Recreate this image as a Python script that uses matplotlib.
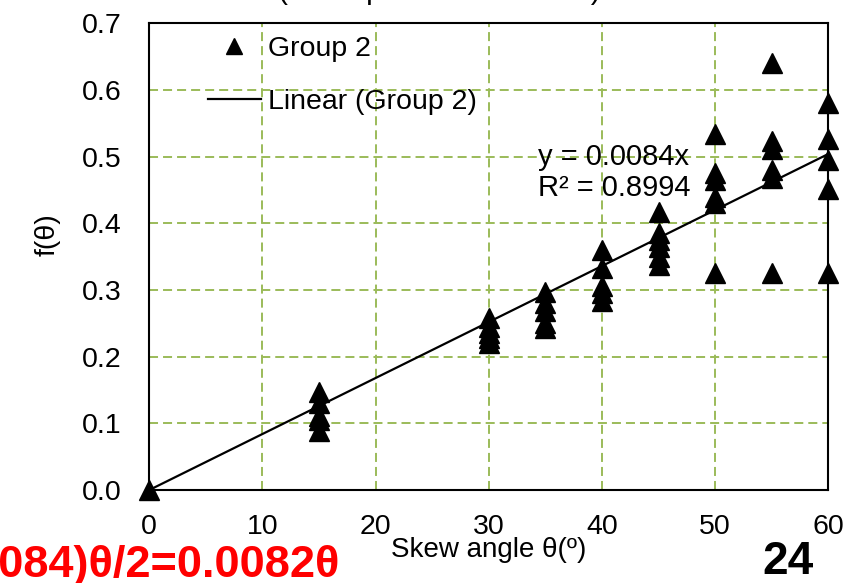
import matplotlib
matplotlib.use("Agg")
import matplotlib.pyplot as plt
import numpy as np

plt.rcParams['font.family'] = ['Liberation Sans', 'DejaVu Sans']
plt.rcParams['lines.scale_dashes'] = False

# ---- data ----
angles = [0, 15, 30, 35, 40, 45, 50, 55, 60]
f_values = [
    [0.0],
    [0.147, 0.13, 0.1115, 0.105, 0.0885],
    [0.2575, 0.245, 0.235, 0.228, 0.221],
    [0.2975, 0.28, 0.268, 0.25, 0.243],
    [0.36, 0.333, 0.306, 0.296, 0.284],
    [0.4175, 0.385, 0.375, 0.365, 0.35, 0.3375],
    [0.534, 0.475, 0.465, 0.44, 0.43, 0.326],
    [0.64, 0.524, 0.512, 0.48, 0.468, 0.325],
    [0.58, 0.527, 0.495, 0.452, 0.326],
]
trend_slope = 0.0084
trend_r2 = 0.8994
x_ticks = [0, 10, 20, 30, 40, 50, 60]
y_ticks = [0.0, 0.1, 0.2, 0.3, 0.4, 0.5, 0.6, 0.7]

xs = [a for a, vals in zip(angles, f_values) for _ in vals]
ys = [v for vals in f_values for v in vals]

W, H = 854, 583
fig = plt.figure(figsize=(W / 100, H / 100), dpi=100)
L, R, T, B = 149.3, 828.3, 23.3, 490.0
ax = fig.add_axes([L / W, 1 - B / H, (R - L) / W, (B - T) / H])

ax.set_xlim(0, 60)
ax.set_ylim(0, 0.7)
ax.set_xticks(x_ticks)
ax.set_yticks(y_ticks)
ax.set_yticklabels([f"{v:.1f}" for v in y_ticks])
ax.tick_params(axis='both', length=0, labelsize=20.5)
ax.tick_params(axis='x', pad=17.5)
ax.tick_params(axis='y', pad=20)

grid_color = '#9BBB59'
ax.grid(True, color=grid_color, linewidth=1.4, dashes=(6.5, 3.6))
ax.set_axisbelow(True)
for s in ax.spines.values():
    s.set_linewidth(1.5)
    s.set_color('black')

# trend line
tx = np.array([0, 60])
ax.plot(tx, trend_slope * tx, color='black', linewidth=1.6, zorder=3,
        label='Linear (Group 2)')

# data
ax.plot(xs, ys, linestyle='none', marker='^', markersize=14, color='black',
        clip_on=False, zorder=4, label='Group 2')

h, l = ax.get_legend_handles_labels()
leg = ax.legend([h[1], h[0]], [l[1], l[0]], loc='upper left',
                bbox_to_anchor=(208 / W, 1 - 36 / H), bbox_transform=fig.transFigure,
                frameon=False, fontsize=20.5, handlelength=1.85, handletextpad=0.25,
                borderpad=0, borderaxespad=0, labelspacing=0.96, markerscale=0.85)

ax.text(538 / W, 1 - 143 / H,
        f"y = {trend_slope:.4f}x\nR² = {trend_r2:.4f}",
        transform=fig.transFigure, ha='left', va='top', fontsize=21,
        linespacing=1.13)

ax.set_xlabel('Skew angle θ(º)', fontsize=20)
ax.xaxis.set_label_coords(0.5, -(537 - B) / (B - T))
ax.set_ylabel('f(θ)', fontsize=20.5)
ax.yaxis.set_label_coords((61 - L) / (R - L), (B - 235) / (B - T))

# clipped title at top (only descenders visible, as in the reference)
fig.text(278 / W, 1 + 1 / H, '(Test specimens in total)', ha='left',
         va='baseline', fontsize=21.5)

# red formula text (left part clipped)
fig.text(340 / W, 1 - 577 / H, '(0.0080+0.0084)θ/2=0.0082θ', ha='right',
         va='baseline', fontsize=32.5, fontweight='bold', color='#FF0000')

# slide number
fig.text(762 / W, 1 - 574 / H, '24', ha='left', va='baseline', fontsize=33,
         fontweight='bold', color='black')

fig.savefig('out.png', dpi=100)
